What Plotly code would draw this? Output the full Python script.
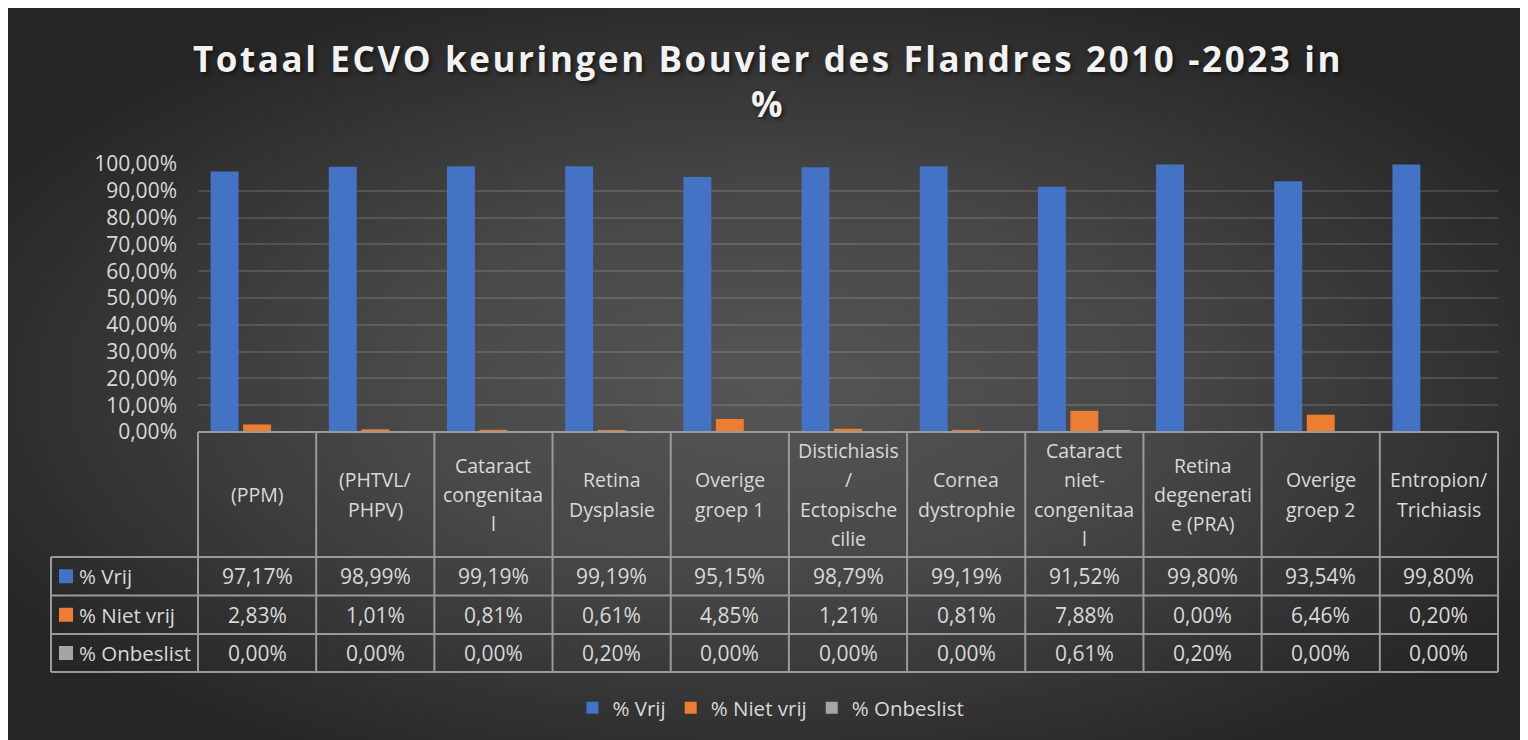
import base64
import plotly.graph_objects as go

# ---------------- data ----------------
categories = [
    "(PPM)",
    "(PHTVL/<br>PHPV)",
    "Cataract<br>congenitaa<br>l",
    "Retina<br>Dysplasie",
    "Overige<br>groep 1",
    "Distichiasis<br>/<br>Ectopische<br>cilie",
    "Cornea<br>dystrophie",
    "Cataract<br>niet-<br>congenitaa<br>l",
    "Retina<br>degenerati<br>e (PRA)",
    "Overige<br>groep 2",
    "Entropion/<br>Trichiasis",
]
series_names = ["% Vrij", "% Niet vrij", "% Onbeslist"]
vrij = [97.17, 98.99, 99.19, 99.19, 95.15, 98.79, 99.19, 91.52, 99.80, 93.54, 99.80]
niet_vrij = [2.83, 1.01, 0.81, 0.61, 4.85, 1.21, 0.81, 7.88, 0.00, 6.46, 0.20]
onbeslist = [0.00, 0.00, 0.00, 0.20, 0.00, 0.00, 0.00, 0.61, 0.20, 0.00, 0.00]
y_ticks = [0, 10, 20, 30, 40, 50, 60, 70, 80, 90, 100]
title_line1 = "Totaal ECVO keuringen Bouvier des Flandres 2010 -2023 in"
title_line2 = "%"

series_values = [vrij, niet_vrij, onbeslist]
colors = ["#4472C4", "#ED7D31", "#A5A5A5"]


def pct(v):
    return f"{v:.2f}".replace(".", ",") + "%"


# ---------------- geometry (pixels) ----------------
W, H = 1520, 732
OFF = 8  # page body margin
L, R, T, B = 190, 1490, 156, 424  # plot area in figure pixels
PW, PH = R - L, B - T


def xp(page_x):
    return ((page_x - OFF) - L) / PW


def yp(page_y):
    return (B - (page_y - OFF)) / PH


FONT = "Open Sans"
TXT = "#d9d9d9"
LINE = "#9a9a9a"

fig = go.Figure()
for name, vals, col in zip(series_names, series_values, colors):
    fig.add_trace(go.Bar(x=categories, y=vals, name=name, marker=dict(color=col, line=dict(width=0))))

# background gradient as an image
svg = (
    '<svg xmlns="http://www.w3.org/2000/svg" width="100" height="100" viewBox="0 0 100 100" preserveAspectRatio="none">'
    '<defs><radialGradient id="g" cx="50%" cy="52%" r="58%">'
    '<stop offset="0" stop-color="#555555"/><stop offset="0.45" stop-color="#474747"/>'
    '<stop offset="1" stop-color="#262626"/></radialGradient></defs>'
    '<rect width="100" height="100" fill="url(#g)"/></svg>'
)
src = "data:image/svg+xml;base64," + base64.b64encode(svg.encode()).decode()

shapes = []
annotations = []
n = len(categories)
col_w = 1 / n

# table lines
y_head_top, y_head_bot = 432, 557
row_edges = [557, 595.5, 634, 672]
x_left = 51
line = dict(color=LINE, width=2)
shapes.append(dict(type="line", xref="paper", yref="paper", x0=0, x1=1, y0=yp(y_head_top), y1=yp(y_head_top), line=line))
for ye in row_edges:
    shapes.append(dict(type="line", xref="paper", yref="paper", x0=xp(x_left), x1=1, y0=yp(ye), y1=yp(ye), line=line))
for i in range(n + 1):
    shapes.append(dict(type="line", xref="paper", yref="paper", x0=i * col_w, x1=i * col_w,
                       y0=yp(y_head_top), y1=yp(row_edges[-1]), line=line))
shapes.append(dict(type="line", xref="paper", yref="paper", x0=xp(x_left), x1=xp(x_left),
                   y0=yp(row_edges[0]), y1=yp(row_edges[-1]), line=line))

# header text
head_c = (y_head_top + y_head_bot) / 2
LS = 29.3
for i, cat in enumerate(categories):
    parts = cat.split("<br>")
    k = len(parts)
    for j, p in enumerate(parts):
        yy = head_c + (j - (k - 1) / 2) * LS
        annotations.append(dict(xref="paper", yref="paper", x=(i + 0.5) * col_w, y=yp(yy), text=p,
                                showarrow=False, xanchor="center", yanchor="middle",
                                font=dict(family=FONT, size=19.5, color=TXT)))

# data rows
for r, (name, vals, col) in enumerate(zip(series_names, series_values, colors)):
    yc = (row_edges[r] + row_edges[r + 1]) / 2
    shapes.append(dict(type="rect", xref="paper", yref="paper", x0=xp(59), x1=xp(73),
                       y0=yp(yc - 7), y1=yp(yc + 7), fillcolor=col, line=dict(width=0)))
    annotations.append(dict(xref="paper", yref="paper", x=xp(77), y=yp(yc), text=name, showarrow=False,
                            xanchor="left", yanchor="middle", font=dict(family=FONT, size=20.5, color=TXT)))
    for i, v in enumerate(vals):
        annotations.append(dict(xref="paper", yref="paper", x=(i + 0.5) * col_w, y=yp(yc),
                                text=pct(v), showarrow=False,
                                xanchor="center", yanchor="middle",
                                font=dict(family=FONT, size=21, color=TXT)))

# title (two lines, letter-spaced like the original)
tfont = dict(family=FONT, size=35, color="#f2f2f2", weight="bold", shadow="2px 2px 4px rgba(0,0,0,0.6)")
spaced = '<span style="letter-spacing:2.6px">{}</span>'
fig.update_layout(
    title=dict(text=spaced.format(title_line1) + "<br>" + spaced.format(title_line2),
               x=0.5, xanchor="center", xref="container", y=1 - 63.5 / H, yanchor="middle",
               yref="container", font=tfont)
)

fig.update_layout(
    width=W, height=H,
    margin=dict(l=L, r=W - R, t=T, b=H - B, pad=0),
    paper_bgcolor="#2b2b2b", plot_bgcolor="rgba(0,0,0,0)",
    barmode="group", bargap=0.175, bargroupgap=0.14,
    xaxis=dict(showticklabels=False, showgrid=False, zeroline=False, showline=False, ticks="",
               range=[-0.5, n - 0.5]),
    yaxis=dict(range=[0, 100], tickmode="array", tickvals=y_ticks, ticktext=[pct(t) for t in y_ticks],
               showgrid=True, gridcolor="rgba(255,255,255,0.13)", gridwidth=1.5,
               zeroline=False, showline=False, ticks="", ticklabelstandoff=20,
               tickfont=dict(family=FONT, size=21, color=TXT)),
    legend=dict(orientation="h", x=xp(771), xanchor="center", y=yp(708), yanchor="middle",
                font=dict(family=FONT, size=20.5, color=TXT), bgcolor="rgba(0,0,0,0)",
                traceorder="normal", itemwidth=30),
    shapes=shapes,
    annotations=annotations,
    images=[dict(source=src, xref="paper", yref="paper", x=-L / PW, y=B / PH, sizex=W / PW, sizey=H / PH,
                 xanchor="left", yanchor="top", sizing="stretch", layer="below")],
)

fig.write_html("out.html")
